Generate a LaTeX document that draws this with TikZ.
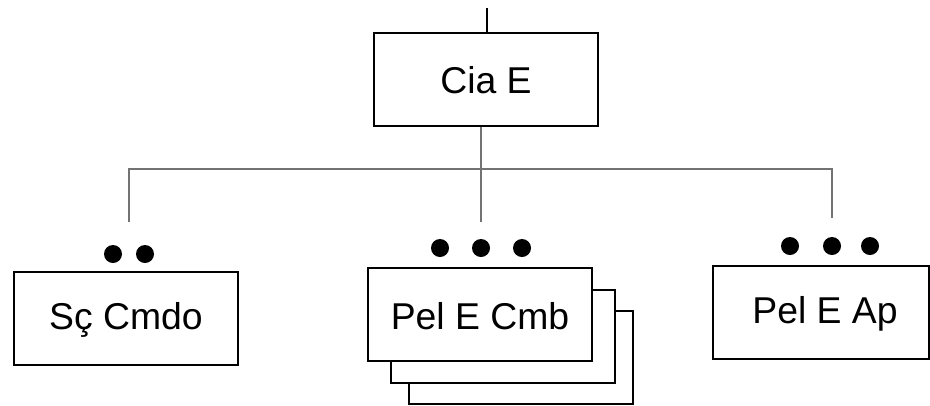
\documentclass[tikz,border=0pt]{standalone}
\usepackage{fontspec}
\setmainfont{Liberation Sans}
\begin{document}
\begin{tikzpicture}[x=0.75pt,y=-0.75pt,
  unitbox/.style={draw=black,line width=1.5pt,fill=white,minimum width=168pt,minimum height=70pt,inner sep=0pt,anchor=north west},
  label/.style={font=\fontsize{28}{33}\selectfont,inner sep=0pt},
  link/.style={draw=black!55,line width=1.1pt},
  dot/.style={circle,fill=black,inner sep=0pt,minimum size=13.5pt}]
\useasboundingbox (0,0) rectangle (930,405);

% Command node
\node[unitbox] (cia) at (373,32) {};
\node[label] (ciat) at (cia.center) {Cia E};
\coordinate (top) at (487,8);
\draw[line width=1.3pt] (top) -- (top |- cia.north);

% Branch lines
\coordinate (bar) at (481,169);
\coordinate (lt) at (129,222);
\coordinate (mt) at (481,222);
\coordinate (rt) at (832,218);
\draw[link] (bar |- cia.south) -- (bar);
\draw[link] (lt) -- (lt |- bar) -- (rt |- bar) -- (rt);
\draw[link] (bar) -- (mt);

% Subordinate units
\node[unitbox] (sc) at (13,271) {};
\node[label] (sct) at ([yshift=-1pt]sc.center) {Sç Cmdo};

\node[unitbox] (cmb3) at (408,310) {};
\node[unitbox] (cmb2) at (390,289) {};
\node[unitbox] (cmb) at (367,267) {};
\node[label] (cmbt) at ([yshift=-1pt]cmb.center) {Pel E Cmb};

\node[unitbox,minimum width=162pt] (ap) at (712,265) {};
\node[label] (apt) at ([xshift=3pt,yshift=-1pt]ap.center) {Pel E Ap};

% Size markers
\node[dot] (sd1) at (113,254) {};
\node[dot] (sd2) at (145,254) {};
\node[dot] (md1) at (440,248) {};
\node[dot] (md2) at (481,248) {};
\node[dot] (md3) at (522,248) {};
\node[dot] (rd1) at (790,246) {};
\node[dot] (rd2) at (832,246) {};
\node[dot] (rd3) at (870,246) {};
\end{tikzpicture}
\end{document}
